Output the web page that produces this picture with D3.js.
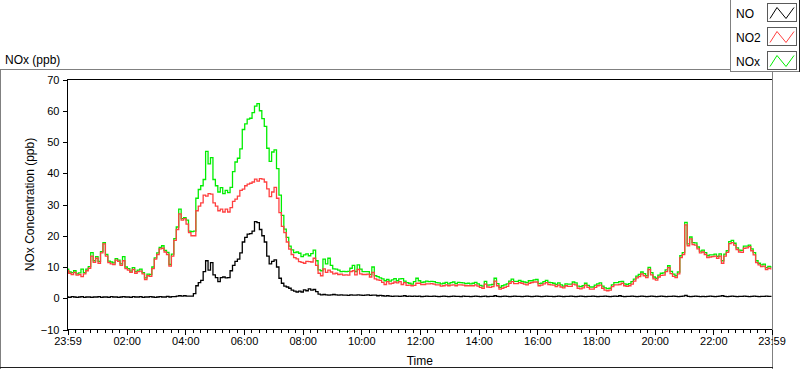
<!DOCTYPE html>
<html><head><meta charset="utf-8">
<script src="https://cdn.jsdelivr.net/npm/d3@7/dist/d3.min.js"></script>
<style>
body{margin:0;background:#fff}
svg{display:block}
text{font-family:"Liberation Sans",Arial,sans-serif;fill:#000}
</style>
</head><body>
<svg id="chart" width="800" height="369"></svg>
<script>
// ---------- DATA (5-minute samples starting at 23:59) ----------
const sampleStepMinutes = 5;
const seriesNames = ["NO", "NO2", "NOx"];

const noValues = [
0.4,0.3,0.5,0.4,0.3,0.4,0.5,0.3,0.4,0.4,
0.3,0.4,0.4,0.5,0.3,0.4,0.4,0.3,0.5,0.4,
0.4,0.3,0.4,0.5,0.4,0.4,0.3,0.5,0.4,0.4,
0.5,0.3,0.4,0.4,0.5,0.4,0.3,0.4,0.5,0.4,
0.4,0.6,0.4,0.5,0.5,0.7,0.8,0.7,0.8,0.7,
0.7,0.7,1.5,4.0,5.0,5.7,8.5,12.0,9.0,11.4,
7.5,6.6,5.3,6.6,6.8,6.5,6.6,8.8,10.5,11.8,
12.5,14.5,18.0,19.5,20.5,20.7,21.5,24.5,24.2,22.0,
20.0,18.0,13.5,11.0,11.8,12.3,10.0,6.4,4.8,3.9,
3.6,3.2,2.6,2.3,2.0,2.3,2.0,2.7,2.4,3.0,
2.6,2.8,2.1,1.3,1.1,1.2,1.1,1.0,1.1,1.2,
1.1,1.0,1.1,1.0,1.0,0.9,1.1,1.0,1.0,1.1,
1.0,0.9,1.0,1.1,0.9,1.0,1.0,0.8,0.9,0.8,
0.7,0.8,0.7,0.6,0.7,0.7,0.6,0.7,0.8,0.6,
0.7,0.6,0.7,0.6,0.7,0.5,0.6,0.7,0.6,0.6,
0.7,0.6,0.5,0.6,0.7,0.6,0.5,0.6,0.7,0.6,
0.6,0.5,0.7,0.6,0.6,0.5,0.6,0.7,0.6,0.5,
0.6,0.7,0.5,0.6,0.6,0.8,0.6,0.5,0.6,0.7,
0.6,0.5,0.6,0.7,0.6,0.6,0.5,0.6,0.7,0.6,
0.5,0.6,0.7,0.6,0.5,0.6,0.7,0.6,0.6,0.5,
0.6,0.7,0.6,0.5,0.6,0.6,0.7,0.6,0.5,0.6,
0.7,0.6,0.5,0.6,0.6,0.7,0.6,0.5,0.6,0.6,
0.7,0.6,0.5,0.6,0.7,0.6,0.8,0.6,0.5,0.6,
0.6,0.7,0.6,0.5,0.6,0.7,0.6,0.5,0.6,0.7,
0.6,0.5,0.6,0.7,0.6,0.5,0.6,0.6,0.7,0.6,
0.5,0.6,0.7,0.9,0.6,0.5,0.6,0.7,0.6,0.5,
0.6,0.5,0.6,0.7,0.6,0.5,0.6,0.7,0.8,0.6,
0.5,0.6,0.7,0.6,0.5,0.6,0.6,0.7,0.6,0.5,
0.6,0.7,0.6,0.5,0.6,0.6,0.7,0.6,0.6
];

const no2Values = [
8.8,8.0,7.6,8.3,7.4,7.6,6.9,7.8,8.8,9.6,
13.5,11.5,12.8,11.2,14.5,17.4,13.5,11.4,11.0,10.8,
12.2,11.8,10.5,12.0,9.5,9.0,8.3,9.2,8.0,8.5,
8.7,7.8,6.0,7.2,7.0,9.5,12.5,14.0,15.8,16.0,
14.8,14.0,10.3,13.5,18.5,22.0,27.0,25.0,25.5,23.7,
21.0,20.0,20.0,28.0,29.5,30.5,33.0,32.7,33.5,33.3,
30.5,29.5,28.0,28.5,27.6,28.5,27.6,29.0,31.0,31.7,
32.7,34.5,34.9,36.0,36.5,36.8,37.2,38.1,37.5,38.3,
38.1,37.2,35.0,32.5,34.0,35.5,32.0,27.4,23.0,21.0,
18.0,15.7,14.0,13.0,12.6,11.7,11.5,11.2,11.8,11.7,
11.6,12.8,10.5,8.0,7.2,9.4,8.3,9.0,8.4,7.8,
8.0,7.6,7.7,7.4,7.5,7.4,8.5,8.8,7.5,9.2,
7.8,7.6,7.6,7.7,6.8,8.3,6.2,5.9,5.7,5.1,
4.4,5.3,4.6,4.8,5.2,4.9,5.3,4.4,5.0,4.1,
4.2,4.0,4.1,4.8,4.8,4.4,4.4,4.6,4.6,4.7,
4.5,4.3,4.3,3.9,4.0,4.3,4.0,4.2,4.3,4.0,
4.3,4.3,4.2,4.0,4.0,4.0,4.0,4.3,3.9,3.5,
3.2,4.5,3.6,3.5,3.7,5.5,4.0,2.9,3.2,3.5,
3.8,4.8,5.3,4.7,4.7,5.0,4.8,4.5,4.3,4.8,
5.0,5.2,5.2,4.0,4.2,4.6,5.0,4.4,4.3,4.2,
3.7,4.2,3.6,3.3,4.0,3.8,3.8,4.5,4.3,3.2,
3.0,3.3,4.2,3.5,2.9,2.9,3.5,4.0,4.2,3.2,
2.6,2.4,2.6,3.7,4.3,4.3,4.4,4.8,4.0,3.8,
4.0,4.5,5.5,6.5,6.9,7.8,7.2,6.6,9.2,7.5,
6.2,5.8,6.8,7.3,7.4,8.5,9.8,7.9,7.0,6.6,
7.8,13.0,14.0,23.5,16.8,19.0,17.2,17.0,15.8,14.5,
14.8,14.0,13.0,13.2,13.3,13.5,12.8,13.5,11.2,13.5,
14.7,17.5,17.8,17.0,15.6,14.8,14.7,16.0,16.1,16.5,
15.2,13.9,11.4,10.7,10.1,10.3,9.2,9.6,9.4
];

const noxValues = [
9.3,8.4,8.2,8.8,7.8,8.1,9.3,8.2,9.3,10.1,
14.6,12.0,13.3,11.8,14.9,17.8,14.0,11.9,11.6,11.3,
12.7,12.2,11.0,13.3,10.0,9.5,8.7,9.8,8.5,9.0,
9.3,8.2,6.5,7.7,7.6,10.0,12.9,14.5,16.3,16.8,
15.3,14.7,10.8,14.1,19.1,22.8,28.5,25.5,25.8,25.0,
21.5,21.3,21.5,32.0,34.8,36.0,38.0,47.0,43.0,45.0,
38.0,36.0,34.0,35.4,33.5,34.5,33.8,35.5,40.5,43.6,
44.8,47.8,54.0,55.8,57.3,57.6,59.4,61.5,62.3,60.0,
57.5,55.0,48.0,43.8,46.8,47.5,41.5,33.0,26.5,22.1,
19.5,16.7,15.5,14.6,14.8,14.4,13.3,13.9,14.2,13.6,
14.3,15.4,12.0,9.1,8.8,12.5,11.0,12.8,10.5,9.4,
9.3,9.0,8.5,8.6,8.5,8.6,9.6,10.5,8.5,10.7,
9.3,8.5,8.5,8.5,7.6,10.0,7.2,6.9,6.5,6.2,
5.6,6.0,5.5,5.9,6.3,5.6,6.2,6.3,5.5,5.0,
4.8,4.5,5.3,6.4,5.6,5.1,5.2,5.5,5.3,5.4,
5.3,5.0,4.9,4.6,4.8,5.1,4.6,5.0,5.2,4.7,
5.1,5.0,4.9,4.7,4.8,4.6,4.8,5.1,4.6,4.1,
3.9,5.4,4.2,4.3,4.4,6.4,4.7,3.5,4.0,4.3,
4.6,5.5,6.1,5.4,5.4,5.7,5.4,5.2,5.0,5.6,
5.6,5.9,6.0,4.7,4.8,5.3,5.7,5.1,5.0,4.8,
4.4,4.9,4.3,3.9,4.6,4.5,4.5,5.2,4.9,3.9,
3.7,4.0,4.8,4.1,3.6,3.6,4.2,4.6,4.9,3.9,
3.3,3.1,3.2,4.3,5.0,5.0,5.3,5.4,4.6,4.4,
4.7,5.3,6.1,7.1,7.6,8.4,7.9,7.2,9.9,8.2,
6.8,6.4,7.4,8.0,8.1,9.1,10.4,8.6,7.7,7.2,
8.4,13.6,14.6,24.3,17.4,19.6,17.8,17.7,16.4,15.1,
15.4,14.6,13.6,13.9,13.9,14.1,13.4,14.2,12.0,14.1,
15.2,18.1,18.5,17.6,16.1,15.4,15.3,16.7,16.7,17.0,
15.8,14.6,12.0,11.2,10.7,10.9,9.8,10.2,10.0
];

const yTickValues = [-10, 0, 10, 20, 30, 40, 50, 60, 70];
const xTickLabels = ["23:59","02:00","04:00","06:00","08:00","10:00","12:00",
                     "14:00","16:00","18:00","20:00","22:00","23:59"];

// ---------- STYLE / LAYOUT ----------
const colors = {NO: "#000000", NO2: "#ff4040", NOx: "#00ee00"};
const plot = {left: 67.5, right: 772, top: 79.5, bottom: 329.5};

const svg = d3.select("#chart");
svg.append("rect").attr("width", 800).attr("height", 369).attr("fill", "#fff");

const start = new Date(2000, 0, 1, 23, 59);
const end = d3.timeMinute.offset(start, 1440);
const x = d3.scaleTime().domain([start, end]).range([plot.left, plot.right - 0.5]);
const y = d3.scaleLinear().domain([-10, 70]).range([plot.bottom, plot.top]);

function toPoints(vals) {
  return vals.map((v, i) => ({t: d3.timeMinute.offset(start, i * sampleStepMinutes), v}));
}
const series = [
  {name: "NOx", pts: toPoints(noxValues)},
  {name: "NO2", pts: toPoints(no2Values)},
  {name: "NO",  pts: toPoints(noValues)}
];

// outer frame
const frame = svg.append("g").attr("fill", "none").attr("shape-rendering", "crispEdges");
frame.append("line").attr("x1", 0).attr("x2", 731).attr("y1", 69.5).attr("y2", 69.5).attr("stroke", "#808080");
frame.append("line").attr("x1", 0.5).attr("x2", 0.5).attr("y1", 69.5).attr("y2", 369).attr("stroke", "#808080");
frame.append("line").attr("x1", 772.5).attr("x2", 772.5).attr("y1", 72).attr("y2", 369).attr("stroke", "#808080");
frame.append("line").attr("x1", 0).attr("x2", 773).attr("y1", 367.5).attr("y2", 367.5).attr("stroke", "#202020");

// title
svg.append("text").attr("x", 5).attr("y", 64).attr("font-size", 12).text("NOx (ppb)");

// plot clip
svg.append("clipPath").attr("id", "clip").append("rect")
  .attr("x", plot.left).attr("y", plot.top).attr("width", plot.right - plot.left).attr("height", plot.bottom - plot.top);

// lines (stepped, like the instrument's per-sample trace)
const line = d3.line().curve(d3.curveStep).x(d => x(d.t)).y(d => y(d.v));
svg.append("g").attr("clip-path", "url(#clip)")
  .selectAll("path").data(series).join("path")
  .attr("d", d => line(d.pts))
  .attr("fill", "none")
  .attr("stroke", d => colors[d.name])
  .attr("stroke-width", 1.3)
  .attr("stroke-linejoin", "miter");

// plot border (left, top, bottom)
const border = svg.append("g").attr("shape-rendering", "crispEdges").attr("stroke", "#000").attr("fill", "none");
border.append("path").attr("d", `M${plot.right},${plot.top}H${plot.left}V${plot.bottom}H${plot.right}`);

// Y axis
const yAxis = svg.append("g").attr("transform", `translate(${plot.left},0)`)
  .call(d3.axisLeft(y).tickValues(yTickValues).tickSize(5).tickPadding(3).tickFormat(d3.format("d")));
yAxis.select(".domain").remove();
yAxis.selectAll("line").attr("stroke", "#000").attr("shape-rendering", "crispEdges");
yAxis.selectAll("text").attr("font-size", 11).attr("font-family", "Liberation Sans, Arial, sans-serif");

// X axis
const majorTicks = [start];
for (let h = 2; h <= 22; h += 2) majorTicks.push(new Date(2000, 0, 2, h, 0));
majorTicks.push(end);
const minorTicks = d3.timeMinute.every(15).range(start, end);

const xMinor = svg.append("g").attr("transform", `translate(0,${plot.bottom})`)
  .call(d3.axisBottom(x).tickValues(minorTicks).tickSize(3).tickFormat(""));
xMinor.select(".domain").remove();
xMinor.selectAll("line").attr("stroke", "#000").attr("shape-rendering", "crispEdges");

const xAxis = svg.append("g").attr("transform", `translate(0,${plot.bottom})`)
  .call(d3.axisBottom(x).tickValues(majorTicks).tickSize(5).tickPadding(3)
        .tickFormat((d, i) => xTickLabels[i]));
xAxis.select(".domain").remove();
xAxis.selectAll("line").attr("stroke", "#000").attr("shape-rendering", "crispEdges");
xAxis.selectAll("text").attr("font-size", 11).attr("font-family", "Liberation Sans, Arial, sans-serif");

// axis titles
svg.append("text").attr("x", (plot.left + plot.right) / 2).attr("y", 365)
  .attr("text-anchor", "middle").attr("font-size", 12).text("Time");
svg.append("text").attr("transform", `translate(34,${(plot.top + plot.bottom) / 2}) rotate(-90)`)
  .attr("text-anchor", "middle").attr("font-size", 12).attr("fill", "#1a1a1a").text("NOx Concentration (ppb)");

// legend
const legend = svg.append("g").attr("shape-rendering", "crispEdges");
legend.append("path").attr("d", "M730.5,0V71.5H799.5V0").attr("fill", "#fff").attr("stroke", "#808080");
legend.append("line").attr("x1", 799.5).attr("x2", 799.5).attr("y1", 0).attr("y2", 72).attr("stroke", "#202020");
seriesNames.forEach((name, i) => {
  const gy = 3.5 + i * 24;
  const g = svg.append("g");
  g.append("text").attr("x", 736).attr("y", gy + 14).attr("font-size", 12).text(name);
  g.append("rect").attr("x", 767.5).attr("y", gy).attr("width", 29).attr("height", 18)
    .attr("fill", "#fff").attr("stroke", "#5a5a5a").attr("shape-rendering", "crispEdges");
  g.append("polyline")
    .attr("points", [[770, gy + 15], [777, gy + 4], [786, gy + 15], [794, gy + 4]].map(p => p.join(",")).join(" "))
    .attr("fill", "none").attr("stroke", colors[name]).attr("stroke-width", 1);
});
</script>
</body></html>
